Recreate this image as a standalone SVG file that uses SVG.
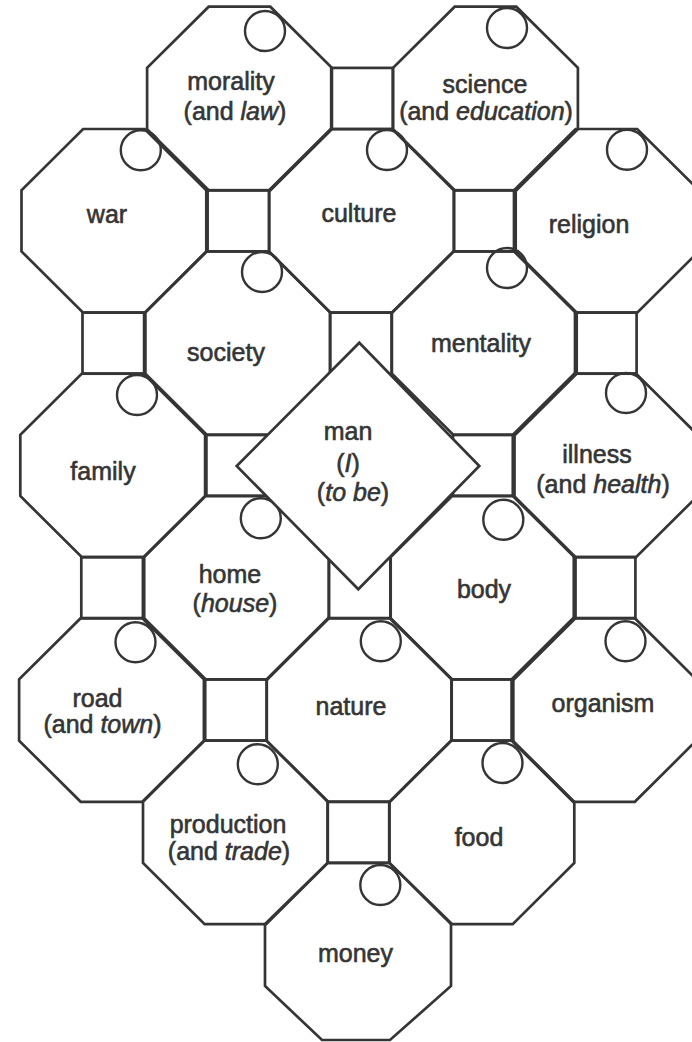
<svg xmlns="http://www.w3.org/2000/svg" xmlns:xlink="http://www.w3.org/1999/xlink" width="692" height="1042" viewBox="0 0 692 1042">
<style>
.ln{fill:none;stroke:#353535;stroke-width:2.7;stroke-linejoin:miter}
.dm{fill:#fff;stroke:#353535;stroke-width:2.7}
.c{fill:none;stroke:#353535;stroke-width:2.4}
.t{font-family:"Liberation Sans",Arial,Helvetica,sans-serif;font-size:25px;fill:#353535;stroke:#353535;stroke-width:0.6;text-anchor:middle}
.i{font-style:italic}
</style>
<defs>
<polygon id="oct" points="-30.8,-91.8 30.8,-91.8 92.4,-30.6 92.4,30.6 30.8,91.8 -30.8,91.8 -92.4,30.6 -92.4,-30.6"/>
<rect id="sq" x="-30.8" y="-30.6" width="61.6" height="61.2"/>
</defs>
<rect width="692" height="1042" fill="#fff"/>
<g id="squares" class="ln">
<use href="#sq" x="362" y="98.5"/>
<use href="#sq" x="238.4" y="220.8"/>
<use href="#sq" x="484.9" y="220.8"/>
<use href="#sq" x="113.3" y="343.1"/>
<use href="#sq" x="360.8" y="343.1"/>
<use href="#sq" x="605.8" y="343.1"/>
<use href="#sq" x="237.2" y="465.4"/>
<use href="#sq" x="483.7" y="465.4"/>
<use href="#sq" x="112.1" y="587.7"/>
<use href="#sq" x="359.6" y="587.7"/>
<use href="#sq" x="604.6" y="587.7"/>
<use href="#sq" x="236" y="710"/>
<use href="#sq" x="482.5" y="710"/>
<use href="#sq" x="358.4" y="832.3"/>
</g>
<g id="connectors"></g>
<g id="morality"><use class="ln" href="#oct" x="239.5" y="98.5"/><circle class="c" cx="265" cy="31" r="20"/><text class="t" x="231" y="90">morality</text><text class="t" x="235" y="120">(and <tspan class="i">law</tspan>)</text></g>
<g id="science"><use class="ln" href="#oct" x="485.5" y="98.5"/><circle class="c" cx="507" cy="28" r="20"/><text class="t" x="485" y="93">science</text><text class="t" x="486" y="120">(and <tspan class="i">education</tspan>)</text></g>
<g id="war"><use class="ln" href="#oct" x="113.9" y="220.8"/><circle class="c" cx="140.8" cy="150.3" r="20"/><text class="t" x="107" y="223">war</text></g>
<g id="culture"><use class="ln" href="#oct" x="361.4" y="220.8"/><circle class="c" cx="387" cy="150" r="20"/><text class="t" x="359" y="222">culture</text></g>
<g id="religion"><use class="ln" href="#oct" x="606.4" y="220.8"/><circle class="c" cx="627" cy="149.7" r="20"/><text class="t" x="589" y="233">religion</text></g>
<g id="society"><use class="ln" href="#oct" x="237.8" y="343.1"/><circle class="c" cx="262" cy="272" r="20"/><text class="t" x="226" y="361">society</text></g>
<g id="mentality"><use class="ln" href="#oct" x="484.3" y="343.1"/><circle class="c" cx="507" cy="268" r="20"/><text class="t" x="481" y="352">mentality</text></g>
<g id="family"><use class="ln" href="#oct" x="112.7" y="465.4"/><circle class="c" cx="137" cy="395" r="20"/><text class="t" x="103" y="480">family</text></g>
<g id="illness"><use class="ln" href="#oct" x="605.2" y="465.4"/><circle class="c" cx="626" cy="393" r="20"/><text class="t" x="597" y="463">illness</text><text class="t" x="603" y="493">(and <tspan class="i">health</tspan>)</text></g>
<g id="home"><use class="ln" href="#oct" x="236.6" y="587.7"/><circle class="c" cx="260.8" cy="518.3" r="20"/><text class="t" x="230" y="583">home</text><text class="t" x="235" y="612">(<tspan class="i">house</tspan>)</text></g>
<g id="body"><use class="ln" href="#oct" x="483.1" y="587.7"/><circle class="c" cx="503.3" cy="519.7" r="20"/><text class="t" x="484" y="598">body</text></g>
<g id="road"><use class="ln" href="#oct" x="111.5" y="710"/><circle class="c" cx="135.5" cy="642.2" r="20"/><text class="t" x="97.5" y="707">road</text><text class="t" x="102.5" y="733">(and <tspan class="i">town</tspan>)</text></g>
<g id="nature"><use class="ln" href="#oct" x="359" y="710"/><circle class="c" cx="380.8" cy="641.2" r="20"/><text class="t" x="351" y="715">nature</text></g>
<g id="organism"><use class="ln" href="#oct" x="604" y="710"/><circle class="c" cx="625.5" cy="641.3" r="20"/><text class="t" x="603" y="712">organism</text></g>
<g id="production"><use class="ln" href="#oct" x="235.4" y="832.3"/><circle class="c" cx="257.8" cy="764.2" r="20"/><text class="t" x="228" y="833">production</text><text class="t" x="229" y="860">(and <tspan class="i">trade</tspan>)</text></g>
<g id="food"><use class="ln" href="#oct" x="481.9" y="832.3"/><circle class="c" cx="502.5" cy="763" r="20"/><text class="t" x="479" y="846">food</text></g>
<g id="money"><polygon class="ln" points="327.6,862.9 389.2,862.9 451,923 451,986 390,1040 322,1040 265,986 265,924"/><circle class="c" cx="380.3" cy="885" r="20"/><text class="t" x="355.5" y="962">money</text></g>
<g id="man"><polygon class="dm" points="359.3,342.7 479.3,466 358.3,589.3 236.7,466"/><text class="t" x="348" y="440">man</text><text class="t" x="348" y="472">(<tspan class="i">I</tspan>)</text><text class="t" x="353" y="501">(<tspan class="i">to be</tspan>)</text></g>
</svg>
